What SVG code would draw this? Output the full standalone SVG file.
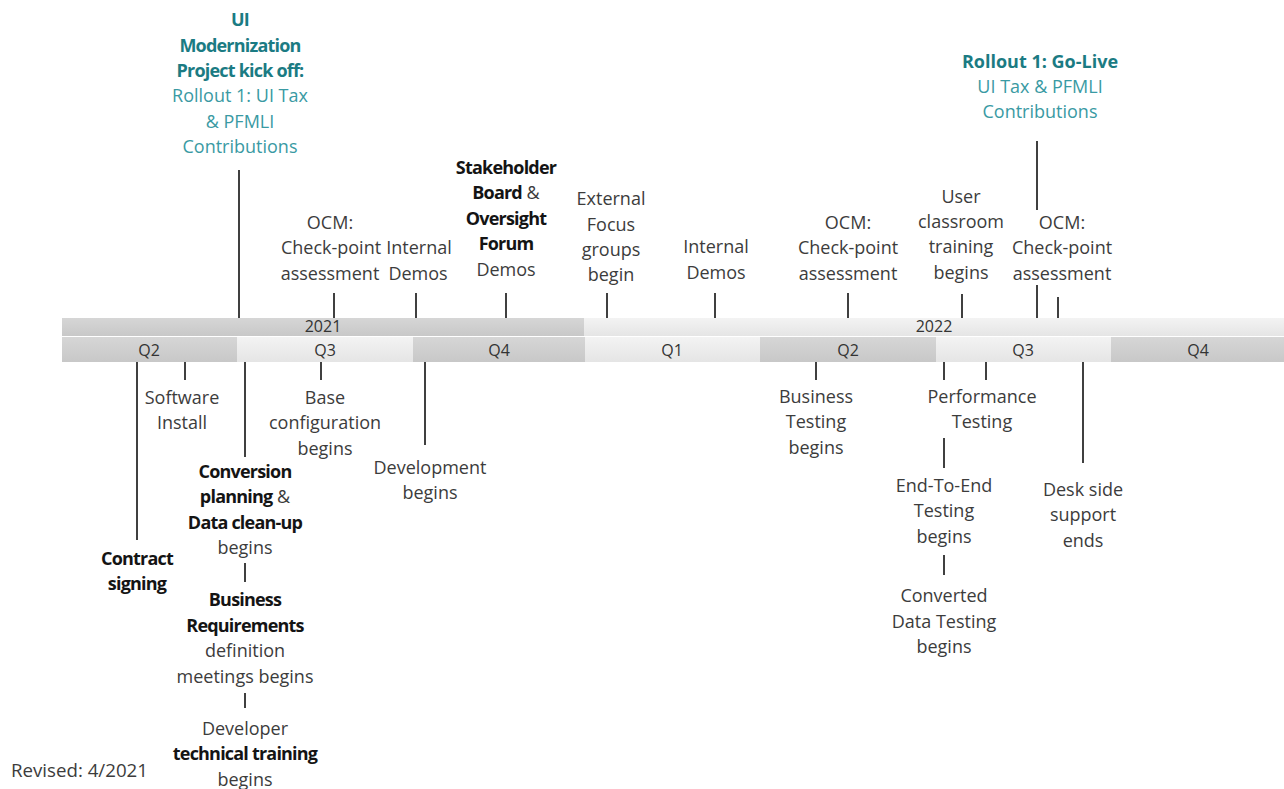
<svg xmlns="http://www.w3.org/2000/svg" width="1284" height="789" viewBox="0 0 1284 789">
<defs>
<linearGradient id="gDark" x1="0" y1="0" x2="0" y2="1"><stop offset="0" stop-color="#d6d6d6"/><stop offset="1" stop-color="#c8c8c8"/></linearGradient>
<linearGradient id="gLight" x1="0" y1="0" x2="0" y2="1"><stop offset="0" stop-color="#f3f3f3"/><stop offset="1" stop-color="#e5e5e5"/></linearGradient>
<style>
text{font-family:"Open Sans","Liberation Sans",sans-serif;font-size:18px;text-anchor:middle;fill:#3c3c3c}
.b{font-weight:700;fill:#141414;letter-spacing:-0.8px}
.tb{font-weight:700;fill:#1b7b83;letter-spacing:-0.8px}
.tl{fill:#3a9aa3}
.bar{font-size:16px;fill:#333}
.l{stroke:#404040;stroke-width:2;fill:none}
.lft{text-anchor:start}
</style>
</defs>
<rect width="1284" height="789" fill="#fff"/>
<g id="timeline">
<rect x="62" y="318" width="522" height="18" fill="url(#gDark)"/>
<rect x="584" y="318" width="700" height="18" fill="url(#gLight)"/>
<rect x="62" y="337" width="175" height="25" fill="url(#gDark)"/>
<rect x="237" y="337" width="176" height="25" fill="url(#gLight)"/>
<rect x="413" y="337" width="172" height="25" fill="url(#gDark)"/>
<rect x="585" y="337" width="175" height="25" fill="url(#gLight)"/>
<rect x="760" y="337" width="176" height="25" fill="url(#gDark)"/>
<rect x="936" y="337" width="175" height="25" fill="url(#gLight)"/>
<rect x="1111" y="337" width="173" height="25" fill="url(#gDark)"/>
<text class="bar" x="323" y="332">2021</text>
<text class="bar" x="934" y="332">2022</text>
<text class="bar" x="149" y="356">Q2</text>
<text class="bar" x="325" y="356">Q3</text>
<text class="bar" x="499" y="356">Q4</text>
<text class="bar" x="672" y="356">Q1</text>
<text class="bar" x="848" y="356">Q2</text>
<text class="bar" x="1023" y="356">Q3</text>
<text class="bar" x="1198" y="356">Q4</text>
</g>
<g id="connectors">
<line class="l" x1="239" y1="170" x2="239" y2="318"/>
<line class="l" x1="334" y1="293" x2="334" y2="318"/>
<line class="l" x1="416" y1="293" x2="416" y2="318"/>
<line class="l" x1="506" y1="293" x2="506" y2="318"/>
<line class="l" x1="607" y1="293" x2="607" y2="318"/>
<line class="l" x1="715" y1="293" x2="715" y2="318"/>
<line class="l" x1="848" y1="293" x2="848" y2="318"/>
<line class="l" x1="962" y1="294" x2="962" y2="318"/>
<line class="l" x1="1037" y1="141" x2="1037" y2="210"/>
<line class="l" x1="1037" y1="285" x2="1037" y2="318"/>
<line class="l" x1="1058" y1="297" x2="1058" y2="318"/>
<line class="l" x1="137" y1="362" x2="137" y2="540"/>
<line class="l" x1="185" y1="362" x2="185" y2="380"/>
<line class="l" x1="245" y1="362" x2="245" y2="457"/>
<line class="l" x1="321" y1="362" x2="321" y2="380"/>
<line class="l" x1="425" y1="362" x2="425" y2="445"/>
<line class="l" x1="245" y1="563" x2="245" y2="582"/>
<line class="l" x1="245" y1="693" x2="245" y2="708"/>
<line class="l" x1="816" y1="362" x2="816" y2="380"/>
<line class="l" x1="944" y1="362" x2="944" y2="380"/>
<line class="l" x1="986" y1="362" x2="986" y2="380"/>
<line class="l" x1="944" y1="438" x2="944" y2="468"/>
<line class="l" x1="944" y1="555" x2="944" y2="575"/>
<line class="l" x1="1083" y1="362" x2="1083" y2="463"/>
</g>
<g id="kickoff">
<text class="tb" x="240" y="26">UI</text>
<text class="tb" x="240" y="52">Modernization</text>
<text class="tb" x="240" y="77">Project kick off:</text>
<text class="tl" x="240" y="102">Rollout 1: UI Tax</text>
<text class="tl" x="240" y="128">&amp; PFMLI</text>
<text class="tl" x="240" y="153">Contributions</text>
</g>
<g id="ocm1">
<text x="330" y="229">OCM:</text>
<text x="331" y="254">Check-point</text>
<text x="330" y="280">assessment</text>
</g>
<g id="demos1">
<text x="419" y="254">Internal</text>
<text x="418" y="280">Demos</text>
</g>
<g id="stakeholder">
<text x="506" y="174"><tspan class="b">Stakeholder</tspan></text>
<text x="506" y="199"><tspan class="b">Board</tspan> &amp;</text>
<text x="506" y="225"><tspan class="b">Oversight</tspan></text>
<text x="506" y="250"><tspan class="b">Forum</tspan></text>
<text x="506" y="276">Demos</text>
</g>
<g id="focus">
<text x="611" y="205">External</text>
<text x="611" y="231">Focus</text>
<text x="611" y="256">groups</text>
<text x="611" y="281">begin</text>
</g>
<g id="demos2">
<text x="716" y="253">Internal</text>
<text x="716" y="279">Demos</text>
</g>
<g id="ocm2">
<text x="848" y="229">OCM:</text>
<text x="848" y="254">Check-point</text>
<text x="848" y="280">assessment</text>
</g>
<g id="training">
<text x="961" y="203">User</text>
<text x="961" y="228">classroom</text>
<text x="961" y="253">training</text>
<text x="961" y="279">begins</text>
</g>
<g id="ocm3">
<text x="1062" y="229">OCM:</text>
<text x="1062" y="254">Check-point</text>
<text x="1062" y="280">assessment</text>
</g>
<g id="golive">
<text class="tb" x="1040" y="68" style="letter-spacing:0">Rollout 1: Go-Live</text>
<text class="tl" x="1040" y="93">UI Tax &amp; PFMLI</text>
<text class="tl" x="1040" y="118">Contributions</text>
</g>
<g id="contract">
<text class="b" x="137" y="565">Contract</text>
<text class="b" x="137" y="590">signing</text>
</g>
<g id="software">
<text x="182" y="404">Software</text>
<text x="182" y="429">Install</text>
</g>
<g id="baseconfig">
<text x="325" y="404">Base</text>
<text x="325" y="429">configuration</text>
<text x="325" y="455">begins</text>
</g>
<g id="development">
<text x="430" y="474">Development</text>
<text x="430" y="499">begins</text>
</g>
<g id="conversion">
<text x="245" y="478"><tspan class="b">Conversion</tspan></text>
<text x="245" y="503"><tspan class="b">planning</tspan> &amp;</text>
<text x="245" y="529"><tspan class="b">Data clean-up</tspan></text>
<text x="245" y="554">begins</text>
</g>
<g id="bizreq">
<text x="245" y="606"><tspan class="b">Business</tspan></text>
<text x="245" y="632"><tspan class="b">Requirements</tspan></text>
<text x="245" y="657">definition</text>
<text x="245" y="683">meetings begins</text>
</g>
<g id="devtraining">
<text x="245" y="735">Developer</text>
<text x="245" y="760"><tspan class="b">technical training</tspan></text>
<text x="245" y="786">begins</text>
</g>
<g id="biztesting">
<text x="816" y="403">Business</text>
<text x="816" y="428">Testing</text>
<text x="816" y="454">begins</text>
</g>
<g id="performance">
<text x="982" y="403">Performance</text>
<text x="982" y="428">Testing</text>
</g>
<g id="e2e">
<text x="944" y="492">End-To-End</text>
<text x="944" y="517">Testing</text>
<text x="944" y="543">begins</text>
</g>
<g id="converted">
<text x="944" y="602">Converted</text>
<text x="944" y="628">Data Testing</text>
<text x="944" y="653">begins</text>
</g>
<g id="deskside">
<text x="1083" y="496">Desk side</text>
<text x="1083" y="521">support</text>
<text x="1083" y="547">ends</text>
</g>
<g id="revised">
<text class="lft" x="11" y="777" style="font-size:18.7px">Revised: 4/2021</text>
</g>
</svg>
